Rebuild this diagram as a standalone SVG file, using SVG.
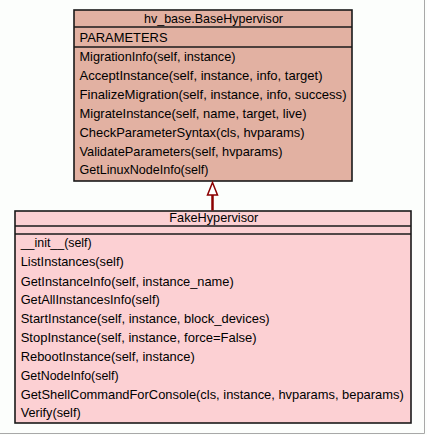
<svg xmlns="http://www.w3.org/2000/svg" width="427" height="435" viewBox="0 0 427 435">
<style>
.box{stroke:#1a1a1a;stroke-width:1.6}
.sep{stroke:#1a1a1a;stroke-width:1.6}
.t{font-family:"Liberation Sans",Arial,sans-serif;font-size:12.8px;fill:#000}
.c{text-anchor:middle}
.frame{stroke:#a8a8a8;stroke-width:1;fill:none}
</style>
<rect width="427" height="435" fill="#fcfefc"/>
<path class="frame" d="M424.5 0 V433.5 H0"/>
<g id="BaseHypervisor">
<rect class="box" x="74" y="10" width="278" height="171" fill="#e2b1a2"/>
<line class="sep" x1="74" y1="27" x2="352" y2="27"/>
<line class="sep" x1="74" y1="47" x2="352" y2="47"/>
<text class="t" x="144" y="22.5" textLength="139" lengthAdjust="spacingAndGlyphs">hv_base.BaseHypervisor</text>
<text class="t" x="79.5" y="42" textLength="88" lengthAdjust="spacingAndGlyphs">PARAMETERS</text>
<text class="t" x="79.5" y="61" textLength="156" lengthAdjust="spacingAndGlyphs">MigrationInfo(self, instance)</text>
<text class="t" x="79.5" y="80" textLength="243" lengthAdjust="spacingAndGlyphs">AcceptInstance(self, instance, info, target)</text>
<text class="t" x="79.5" y="99" textLength="267" lengthAdjust="spacingAndGlyphs">FinalizeMigration(self, instance, info, success)</text>
<text class="t" x="79.5" y="118" textLength="227" lengthAdjust="spacingAndGlyphs">MigrateInstance(self, name, target, live)</text>
<text class="t" x="79.5" y="136.5" textLength="225" lengthAdjust="spacingAndGlyphs">CheckParameterSyntax(cls, hvparams)</text>
<text class="t" x="79.5" y="155.5" textLength="203" lengthAdjust="spacingAndGlyphs">ValidateParameters(self, hvparams)</text>
<text class="t" x="79.5" y="174" textLength="129" lengthAdjust="spacingAndGlyphs">GetLinuxNodeInfo(self)</text>
</g>
<g id="FakeHypervisor">
<rect class="box" x="15" y="211" width="396" height="212" fill="#fcd0d3"/>
<line class="sep" x1="15" y1="226" x2="411" y2="226"/>
<line class="sep" x1="15" y1="234" x2="411" y2="234"/>
<text class="t" x="169.3" y="222" textLength="89" lengthAdjust="spacingAndGlyphs">FakeHypervisor</text>
<text class="t" x="20.7" y="247" textLength="71" lengthAdjust="spacingAndGlyphs">__init__(self)</text>
<text class="t" x="20.7" y="266" textLength="103" lengthAdjust="spacingAndGlyphs">ListInstances(self)</text>
<text class="t" x="20.7" y="285.5" textLength="213" lengthAdjust="spacingAndGlyphs">GetInstanceInfo(self, instance_name)</text>
<text class="t" x="20.7" y="304" textLength="139" lengthAdjust="spacingAndGlyphs">GetAllInstancesInfo(self)</text>
<text class="t" x="20.7" y="323" textLength="249" lengthAdjust="spacingAndGlyphs">StartInstance(self, instance, block_devices)</text>
<text class="t" x="20.7" y="342" textLength="236" lengthAdjust="spacingAndGlyphs">StopInstance(self, instance, force=False)</text>
<text class="t" x="20.7" y="361" textLength="174" lengthAdjust="spacingAndGlyphs">RebootInstance(self, instance)</text>
<text class="t" x="20.7" y="379.5" textLength="98" lengthAdjust="spacingAndGlyphs">GetNodeInfo(self)</text>
<text class="t" x="20.7" y="398.5" textLength="383" lengthAdjust="spacingAndGlyphs">GetShellCommandForConsole(cls, instance, hvparams, beparams)</text>
<text class="t" x="20.7" y="417" textLength="60" lengthAdjust="spacingAndGlyphs">Verify(self)</text>
</g>
<g id="connectors">
<line x1="212.5" y1="195" x2="212.5" y2="210.5" stroke="#8b0000" stroke-width="2.5"/>
<polygon points="212.5,182.5 207.5,195 217.5,195" fill="#ffffff" stroke="#8b0000" stroke-width="1.5"/>
</g>
</svg>
